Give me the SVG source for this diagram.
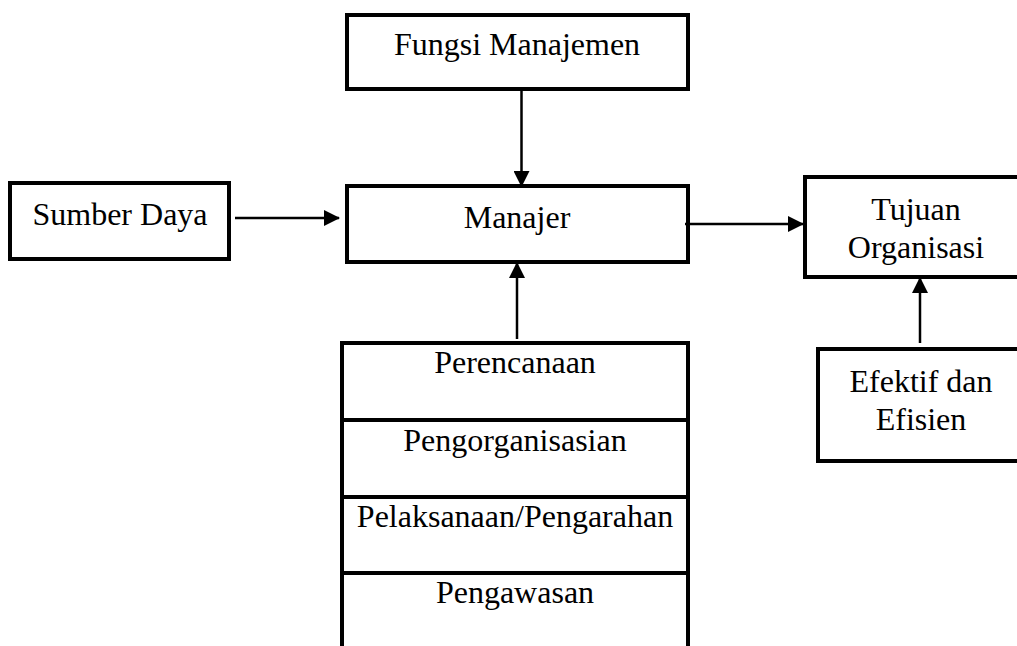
<svg xmlns="http://www.w3.org/2000/svg" width="1017" height="646" viewBox="0 0 1017 646">
<style>
.box{fill:none;stroke:#000;stroke-width:4}
.ln{fill:none;stroke:#000;stroke-width:2.5}
.t{font-family:"Liberation Serif","Times New Roman",serif;font-size:32px;fill:#000;text-anchor:middle}
</style>
<defs>
<marker id="ah" markerUnits="userSpaceOnUse" markerWidth="16" markerHeight="16" viewBox="0 0 16 16" refX="15" refY="8" orient="auto">
<path d="M0,0 L16,8 L0,16 Z" fill="#000"/>
</marker>
</defs>
<rect width="1017" height="646" fill="#fff"/>
<g id="connectors">
<line class="ln" x1="521.5" y1="89" x2="521.5" y2="186" marker-end="url(#ah)"/>
<line class="ln" x1="235" y1="218" x2="339" y2="218" marker-end="url(#ah)"/>
<line class="ln" x1="685" y1="224" x2="803" y2="224" marker-end="url(#ah)"/>
<line class="ln" x1="517" y1="339" x2="517" y2="263" marker-end="url(#ah)"/>
<line class="ln" x1="920" y1="343" x2="920" y2="278" marker-end="url(#ah)"/>
</g>
<g id="fungsi">
<rect class="box" x="347" y="15" width="341" height="74"/>
<text class="t" x="517" y="55">Fungsi Manajemen</text>
</g>
<g id="manajer">
<rect class="box" x="347" y="186" width="341" height="76"/>
<text class="t" x="517" y="228">Manajer</text>
</g>
<g id="sumber">
<rect class="box" x="10" y="183" width="219" height="76"/>
<text class="t" x="120" y="225">Sumber Daya</text>
</g>
<g id="tujuan">
<rect class="box" x="805" y="177" width="230" height="100"/>
<text class="t" x="916" y="220">Tujuan</text>
<text class="t" x="916" y="258">Organisasi</text>
</g>
<g id="efektif">
<rect class="box" x="818" y="349" width="230" height="112"/>
<text class="t" x="921" y="392">Efektif dan</text>
<text class="t" x="921" y="430">Efisien</text>
</g>
<g id="fungsi-list">
<path class="box" d="M342,650 V343 H688 V650"/>
<line class="box" x1="342" y1="420" x2="688" y2="420"/>
<line class="box" x1="342" y1="497" x2="688" y2="497"/>
<line class="box" x1="342" y1="573" x2="688" y2="573"/>
<text class="t" x="515" y="373">Perencanaan</text>
<text class="t" x="515" y="451">Pengorganisasian</text>
<text class="t" x="515" y="527">Pelaksanaan/Pengarahan</text>
<text class="t" x="515" y="603">Pengawasan</text>
</g>
</svg>
